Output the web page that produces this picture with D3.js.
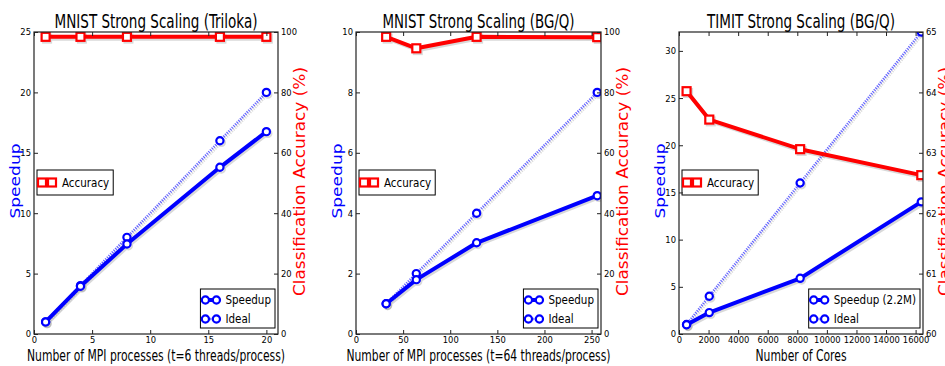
<!DOCTYPE html>
<html><head><meta charset="utf-8">
<script src="https://cdn.jsdelivr.net/npm/d3@7"></script>
<style>body{margin:0;background:#fff}svg{display:block}</style>
</head><body>
<svg id="chart" width="945" height="366"></svg>
<script>
// ---------- DATA ----------
const titles = ["MNIST Strong Scaling (Triloka)", "MNIST Strong Scaling (BG/Q)", "TIMIT Strong Scaling (BG/Q)"];
const xLabels = ["Number of MPI processes (t=6 threads/process)", "Number of MPI processes (t=64 threads/process)", "Number of Cores"];
const leftLabel = "Speedup";
const rightLabel = "Classification Accuracy (%)";
const speedupNames = ["Speedup", "Speedup", "Speedup (2.2M)"];
const idealName = "Ideal";
const accuracyName = "Accuracy";

const trilokaProcs = [1, 4, 8, 16, 20];
const trilokaSpeedup = [1.0, 3.95, 7.45, 13.8, 16.75];
const trilokaIdeal = [1, 4, 8, 16, 20];
const trilokaAccuracy = [98.4, 98.4, 98.4, 98.4, 98.4];

const bgqProcs = [32, 64, 128, 256];
const bgqSpeedup = [1.0, 1.8, 3.02, 4.58];
const bgqIdeal = [1, 2, 4, 8];
const bgqAccuracy = [98.4, 94.6, 98.4, 98.3];

const timitCores = [512, 2048, 8192, 16384];
const timitSpeedup = [0.98, 2.27, 5.9, 14.0];
const timitIdeal = [1, 4, 16, 32];
const timitAccuracy = [64.02, 63.55, 63.06, 62.63];

const trilokaXTicks = [0, 5, 10, 15, 20];
const bgqXTicks = [0, 50, 100, 150, 200, 250];
const timitXTicks = [0, 2000, 4000, 6000, 8000, 10000, 12000, 14000, 16000];
const trilokaYTicks = [0, 5, 10, 15, 20, 25];
const bgqYTicks = [0, 2, 4, 6, 8, 10];
const timitYTicks = [0, 5, 10, 15, 20, 25, 30];
const accTicks = [0, 20, 40, 60, 80, 100];
const timitAccTicks = [60, 61, 62, 63, 64, 65];

// ---------- LAYOUT ----------
const TOP = 32, BOTTOM = 334;
const panels = [
  {left: 34, right: 278, xDomain: [0, 21], yDomain: [0, 25], rDomain: [0, 100],
   x: trilokaProcs, s: trilokaSpeedup, id: trilokaIdeal, acc: trilokaAccuracy,
   xt: trilokaXTicks, yt: trilokaYTicks, rt: accTicks, titleW: 203, xlabW: 258},
  {left: 356, right: 601, xDomain: [0, 260], yDomain: [0, 10], rDomain: [0, 100],
   x: bgqProcs, s: bgqSpeedup, id: bgqIdeal, acc: bgqAccuracy,
   xt: bgqXTicks, yt: bgqYTicks, rt: accTicks, titleW: 192, xlabW: 264},
  {left: 679, right: 923, xDomain: [0, 16500], yDomain: [0, 32], rDomain: [60, 65],
   x: timitCores, s: timitSpeedup, id: timitIdeal, acc: timitAccuracy,
   xt: timitXTicks, yt: timitYTicks, rt: timitAccTicks, titleW: 188, xlabW: 91}
];

const svg = d3.select("#chart");
const NARROW = "'Liberation Sans Narrow','DejaVu Sans Condensed','Arial Narrow',sans-serif";
const WIDE = "'DejaVu Sans',Verdana,sans-serif";
const BLUE = "#0000ff", RED = "#ff0000";

panels.forEach((p, i) => {
  const g = svg.append("g");
  const x = d3.scaleLinear().domain(p.xDomain).range([p.left, p.right]);
  const y = d3.scaleLinear().domain(p.yDomain).range([BOTTOM, TOP]);
  const r = d3.scaleLinear().domain(p.rDomain).range([BOTTOM, TOP]);
  const clipId = "clip" + i;
  svg.append("clipPath").attr("id", clipId).append("rect")
    .attr("x", p.left).attr("y", TOP).attr("width", p.right - p.left).attr("height", BOTTOM - TOP);

  const plot = g.append("g").attr("clip-path", `url(#${clipId})`);
  const lineS = d3.line().x((d, k) => x(p.x[k])).y(d => y(d));
  const lineR = d3.line().x((d, k) => x(p.x[k])).y(d => r(d));

  function series(vals, line, color, width, dash, opacity) {
    const sh = plot.append("g").attr("transform", "translate(1.5,1.8)").attr("opacity", 0.22);
    sh.append("path").attr("d", line(vals)).attr("fill", "none").attr("stroke", "#555")
      .attr("stroke-width", width).attr("stroke-dasharray", dash);
    const main = plot.append("g");
    main.append("path").attr("d", line(vals)).attr("fill", "none").attr("stroke", color)
      .attr("stroke-width", width).attr("stroke-dasharray", dash).attr("opacity", opacity)
      .attr("stroke-linejoin", "round");
    vals.forEach((v, k) => {
      const cx = x(p.x[k]), cy = y(v);
      sh.append("circle").attr("cx", cx).attr("cy", cy).attr("r", 3.6).attr("fill", "none").attr("stroke", "#555").attr("stroke-width", 2);
      main.append("circle").attr("cx", cx).attr("cy", cy).attr("r", 3.6)
        .attr("fill", "#fff").attr("stroke", BLUE).attr("stroke-width", 2.2);
    });
  }

  series(p.id, lineS, "#2222ff", 2.6, "1.2,1.2", 0.7);
  series(p.s, lineS, BLUE, 4, null, 1);

  // speedup legend (primary axes)
  const lg = g.append("g");
  const t1 = lg.append("text").attr("font-family", NARROW).attr("font-size", 11.5).text(speedupNames[i]);
  const tw = t1.node().getComputedTextLength();
  const bw = 25 + tw + 4, bx = p.right - 3 - bw, by = BOTTOM - 6 - 39;
  lg.insert("rect", "text").attr("x", bx).attr("y", by).attr("width", bw).attr("height", 39)
    .attr("fill", "#fff").attr("stroke", "#000").attr("stroke-width", 1);
  t1.attr("x", bx + 25).attr("y", by + 11 + 4);
  lg.append("text").attr("font-family", NARROW).attr("font-size", 11.5)
    .attr("x", bx + 25).attr("y", by + 30 + 4).text(idealName);
  lg.append("line").attr("x1", bx + 5).attr("x2", bx + 16).attr("y1", by + 11).attr("y2", by + 11)
    .attr("stroke", BLUE).attr("stroke-width", 4);
  lg.append("line").attr("x1", bx + 5).attr("x2", bx + 16).attr("y1", by + 30).attr("y2", by + 30)
    .attr("stroke", "#2222ff").attr("stroke-width", 2.6).attr("stroke-dasharray", "1.2,1.2").attr("opacity", 0.7);
  [11, 30].forEach(dy => {
    [5, 16].forEach(dx => lg.append("circle").attr("cx", bx + dx).attr("cy", by + dy).attr("r", 3.6)
      .attr("fill", "#fff").attr("stroke", BLUE).attr("stroke-width", 2.2));
  });

  // accuracy on twin axis
  const plot2 = g.append("g").attr("clip-path", `url(#${clipId})`);
  {
    const vals = p.acc;
    const sh = plot2.append("g").attr("transform", "translate(1.5,1.8)").attr("opacity", 0.22);
    sh.append("path").attr("d", lineR(vals)).attr("fill", "none").attr("stroke", "#555").attr("stroke-width", 4);
    plot2.append("path").attr("d", lineR(vals)).attr("fill", "none").attr("stroke", RED)
      .attr("stroke-width", 4).attr("stroke-linejoin", "round");
    vals.forEach((v, k) => {
      const cx = x(p.x[k]), cy = r(v);
      sh.append("rect").attr("x", cx - 4).attr("y", cy - 4).attr("width", 8).attr("height", 8).attr("fill", "none").attr("stroke", "#555").attr("stroke-width", 2);
      plot2.append("rect").attr("x", cx - 4).attr("y", cy - 4).attr("width", 8).attr("height", 8)
        .attr("fill", "#fff").attr("stroke", RED).attr("stroke-width", 2.2);
    });
  }

  // accuracy legend
  const la = g.append("g");
  const ta = la.append("text").attr("font-family", NARROW).attr("font-size", 11.5).text(accuracyName);
  const taw = ta.node().getComputedTextLength();
  const ax0 = p.left + 3, ay0 = 170, aw = 25 + taw + 4;
  la.insert("rect", "text").attr("x", ax0).attr("y", ay0).attr("width", aw).attr("height", 25)
    .attr("fill", "#fff").attr("stroke", "#000").attr("stroke-width", 1);
  ta.attr("x", ax0 + 25).attr("y", ay0 + 12.5 + 4);
  la.append("line").attr("x1", ax0 + 5).attr("x2", ax0 + 15).attr("y1", ay0 + 12.5).attr("y2", ay0 + 12.5)
    .attr("stroke", RED).attr("stroke-width", 4);
  [5, 15].forEach(dx => la.append("rect").attr("x", ax0 + dx - 4).attr("y", ay0 + 12.5 - 4)
    .attr("width", 8).attr("height", 8).attr("fill", "#fff").attr("stroke", RED).attr("stroke-width", 2.2));

  // frame
  g.append("rect").attr("x", p.left).attr("y", TOP).attr("width", p.right - p.left).attr("height", BOTTOM - TOP)
    .attr("fill", "none").attr("stroke", "#222").attr("stroke-width", 1.2);

  // axes
  const styleAxis = sel => {
    sel.select(".domain").remove();
    sel.selectAll("line").attr("stroke", "#222").attr("stroke-width", 1);
    sel.selectAll("text").attr("font-family", NARROW).attr("font-size", 9.3).attr("fill", "#000");
  };
  g.append("g").attr("transform", `translate(0,${BOTTOM})`)
    .call(d3.axisBottom(x).tickValues(p.xt).tickFormat(d3.format("d")).tickSize(-4).tickPadding(2)).call(styleAxis);
  g.append("g").attr("transform", `translate(0,${TOP})`)
    .call(d3.axisTop(x).tickValues(p.xt).tickFormat("").tickSize(-4)).call(styleAxis);
  g.append("g").attr("transform", `translate(${p.left},0)`)
    .call(d3.axisLeft(y).tickValues(p.yt).tickFormat(d3.format("d")).tickSize(-4).tickPadding(3)).call(styleAxis);
  g.append("g").attr("transform", `translate(${p.right},0)`)
    .call(d3.axisRight(r).tickValues(p.rt).tickFormat(d3.format("d")).tickSize(-4).tickPadding(3)).call(styleAxis);

  // titles and labels
  const cxm = (p.left + p.right) / 2;
  g.append("text").attr("x", cxm).attr("y", 27.5).attr("text-anchor", "middle")
    .attr("font-family", NARROW).attr("font-size", 19.5).attr("fill", "#000")
    .attr("textLength", p.titleW).attr("lengthAdjust", "spacingAndGlyphs").text(titles[i]);
  g.append("text").attr("x", cxm).attr("y", 361).attr("text-anchor", "middle")
    .attr("font-family", NARROW).attr("font-size", 16).attr("fill", "#000")
    .attr("textLength", p.xlabW).attr("lengthAdjust", "spacingAndGlyphs").text(xLabels[i]);
  g.append("text").attr("transform", `translate(${p.left - 14},181) rotate(-90)`).attr("text-anchor", "middle")
    .attr("font-family", WIDE).attr("font-size", 14).attr("fill", BLUE)
    .attr("textLength", 75).attr("lengthAdjust", "spacingAndGlyphs").text(leftLabel);
  g.append("text").attr("transform", `translate(${p.right + 27},181.5) rotate(-90)`).attr("text-anchor", "middle")
    .attr("font-family", WIDE).attr("font-size", 15).attr("fill", RED)
    .attr("textLength", 229).attr("lengthAdjust", "spacingAndGlyphs").text(rightLabel);
});
</script>
</body></html>
